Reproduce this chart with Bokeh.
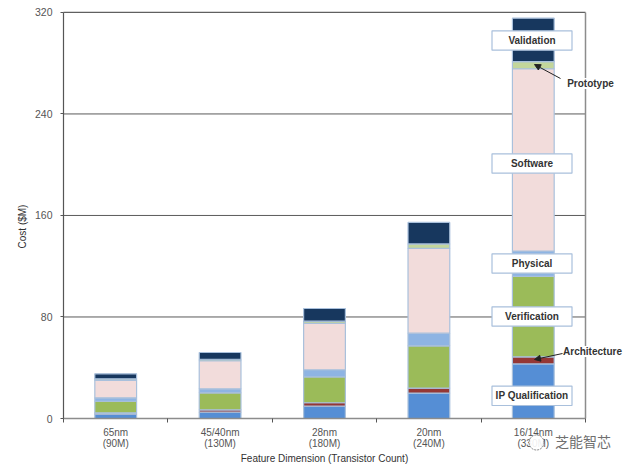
from bokeh.plotting import figure
from bokeh.embed import file_html
from bokeh.resources import INLINE
from bokeh.models import (Range1d, FixedTicker, Label, BoxAnnotation, Arrow, NormalHead,
                          ColumnDataSource)
import math

nodes = ["65nm\n(90M)", "45/40nm\n(130M)", "28nm\n(180M)", "20nm\n(240M)", "16/14nm\n(330M)"]
y_ticks = [0, 80, 160, 240, 320]
series_names = ["IP Qualification", "Architecture", "Verification", "Physical", "Software", "Prototype", "Validation"]
ip_qualification = [3.4, 5.0, 9.7, 20.0, 43.0]
architecture = [1.1, 1.8, 2.7, 4.0, 5.6]
verification = [9.1, 13.4, 20.4, 33.3, 63.4]
physical = [2.7, 3.2, 5.6, 9.9, 20.0]
software = [13.7, 22.1, 36.6, 66.8, 143.6]
prototype = [1.3, 1.2, 1.7, 3.6, 5.7]
validation = [3.9, 5.3, 10.0, 16.9, 34.2]
colors = ["#558ed5", "#953735", "#9bbb59", "#8eb4e3", "#f2dcdb", "#c3d69b", "#17375e"]
all_values = [ip_qualification, architecture, verification, physical, software, prototype, validation]

X0, XU, Y0, YU = 63, 104.4, 418, 1.269
def dx(px): return (px - X0) / XU
def dy(py): return (Y0 - py) / YU

p = figure(width=631, height=468, output_backend="svg", toolbar_location=None,
           x_range=Range1d(dx(0), dx(631)), y_range=Range1d(dy(468), dy(0)),
           min_border_left=0, min_border_right=0, min_border_top=0, min_border_bottom=0,
           background_fill_color="white", border_fill_color="white")
p.outline_line_color = None
p.xgrid.visible = False
p.ygrid.visible = False

n = len(nodes)
p.segment(x0=[0] * 3, x1=[n] * 3, y0=y_ticks[1:4], y1=y_ticks[1:4], line_color="#5a5a5a", line_width=1)
p.segment(x0=[0], x1=[n], y0=[y_ticks[-1]], y1=[y_ticks[-1]], line_color="#606060", line_width=1.2)
p.segment(x0=[n], x1=[n], y0=[0], y1=[y_ticks[-1]], line_color="#8c8c8c", line_width=1.5)

centers = [i + 0.5 for i in range(n)]
bottom = [0.0] * n
for vals, col in zip(all_values, colors):
    top = [b + v for b, v in zip(bottom, vals)]
    src = ColumnDataSource(dict(x=centers, b=bottom, t=top))
    p.vbar(x="x", bottom="b", top="t", width=0.4, source=src, fill_color=col,
           line_color="#a9c0dc", line_width=1.2)
    bottom = top

xa = p.xaxis[0]
xa.fixed_location = 0
xa.bounds = (0, n)
xa.ticker = FixedTicker(ticks=centers, minor_ticks=list(range(n + 1)))
xa.major_label_overrides = {c: t for c, t in zip(centers, nodes)}
xa.major_tick_line_color = None
xa.major_tick_out = 0
xa.major_tick_in = 0
xa.minor_tick_out = 4
xa.minor_tick_in = 0
xa.minor_tick_line_color = "#555555"
xa.axis_line_color = "#8c8c8c"
xa.axis_line_width = 1.5
xa.major_label_standoff = 4
xa.major_label_text_font = "Liberation Sans"
xa.major_label_text_font_size = "10px"
xa.major_label_text_line_height = 1.05
xa.major_label_text_color = "#555555"
xa.axis_label = "Feature Dimension (Transistor Count)"
xa.axis_label_text_font = "Liberation Sans"
xa.axis_label_text_font_style = "normal"
xa.axis_label_text_font_size = "10px"
xa.axis_label_text_color = "#333333"
xa.axis_label_standoff = 1

ya = p.yaxis[0]
ya.fixed_location = 0
ya.bounds = (0, 320)
ya.ticker = FixedTicker(ticks=y_ticks)
ya.major_tick_out = 3
ya.major_tick_in = 0
ya.minor_tick_line_color = None
ya.major_tick_line_color = "#555555"
ya.axis_line_color = "#555555"
ya.axis_line_width = 1.2
ya.major_label_standoff = 8
ya.major_label_text_font = "Liberation Sans"
ya.major_label_text_font_size = "10.5px"
ya.major_label_text_color = "#555555"

p.add_layout(Label(x=dx(22), y=dy(226), text="Cost ($M)", angle=math.pi / 2, text_align="center",
                   text_baseline="middle", text_font="Liberation Sans", text_font_size="10px",
                   text_color="#333333"))

boxes = [("Validation", 40), ("Software", 163), ("Physical", 263), ("Verification", 316), ("IP Qualification", 395.3)]
for name, cy in boxes:
    p.add_layout(BoxAnnotation(left=dx(491.5), right=dx(571.5), top=dy(cy - 9.7), bottom=dy(cy + 9.7),
                               fill_color="white", fill_alpha=1, line_color="#a9c0dc", line_alpha=1, line_width=1.2))
    p.add_layout(Label(x=dx(531.5), y=dy(cy), text=name, text_align="center", text_baseline="middle",
                       text_font="Liberation Sans", text_font_style="bold", text_font_size="10px",
                       text_color="#333333"))

for name, cx, cy in [("Prototype", 590, 83), ("Architecture", 592, 351)]:
    p.add_layout(Label(x=dx(cx), y=dy(cy), text=name, text_align="center", text_baseline="middle",
                       text_font="Liberation Sans", text_font_style="bold", text_font_size="10px",
                       text_color="#333333", background_fill_color="white", background_fill_alpha=1))

for sx, sy, ex, ey in [(560, 78, 534, 64), (562, 353, 534, 359)]:
    p.add_layout(Arrow(x_start=dx(sx), y_start=dy(sy), x_end=dx(ex), y_end=dy(ey),
                       line_color="#222222", line_width=1,
                       end=NormalHead(size=6, fill_color="#222222", line_color="#222222")))

# watermark
p.scatter(x=[dx(536)], y=[dy(442)], size=15, marker="circle", fill_color="white", fill_alpha=0.9,
          line_color="#666666", line_width=0.8, line_dash="2 1", level="overlay")
p.add_layout(Label(x=dx(582.5), y=dy(440), text="芝能智芯", text_align="center", text_baseline="middle",
                   text_font="Noto Sans CJK SC", text_font_size="14px", text_color="#707070"))

open("out.html", "w").write(file_html(p, INLINE))
